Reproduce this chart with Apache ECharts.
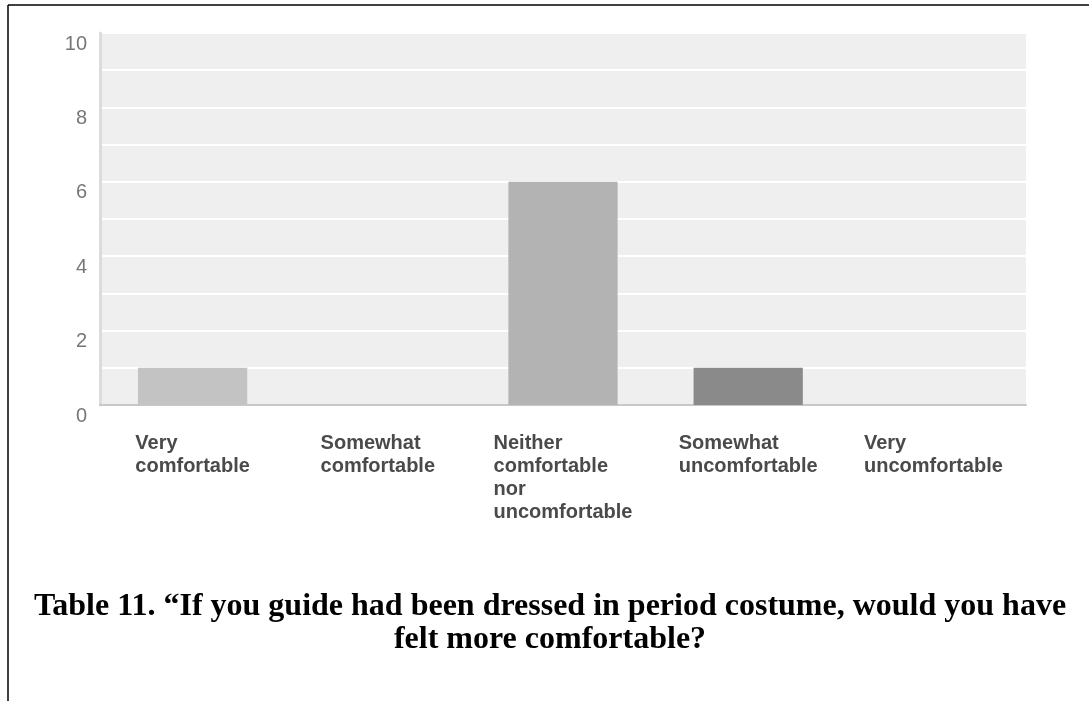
<!DOCTYPE html>
<html>
<head>
<meta charset="utf-8">
<script src="https://cdn.jsdelivr.net/npm/echarts@6/dist/echarts.min.js"></script>
<style>
  html, body { margin: 0; padding: 0; background: #ffffff; }
  #chart { width: 1089px; height: 701px; }
</style>
</head>
<body>
<div id="chart"></div>
<script>
// Survey answers and response counts
const categories = [
  'Very\ncomfortable',
  'Somewhat\ncomfortable',
  'Neither\ncomfortable\nnor\nuncomfortable',
  'Somewhat\nuncomfortable',
  'Very\nuncomfortable'
];
const responses = [1, 0, 6, 1, 0];
const barColors = ['#c3c3c3', '#bdbdbd', '#b3b3b3', '#8a8a8a', '#7a7a7a'];
const yTicks = [0, 2, 4, 6, 8, 10];
const captionLines = [
  'Table 11. \u201CIf you guide had been dressed in period costume, would you have',
  'felt more comfortable?'
];

const chart = echarts.init(document.getElementById('chart'), null, { renderer: 'canvas' });

const sansFont = 'Liberation Sans, Arial, Helvetica, sans-serif';

chart.setOption({
  animation: false,
  backgroundColor: '#ffffff',
  title: {
    text: captionLines.join('\n'),
    left: 550,
    top: 590,
    padding: 0,
    textAlign: 'center',
    textStyle: {
      fontFamily: 'Liberation Serif, Times New Roman, serif',
      fontWeight: 'bold',
      fontSize: 32,
      lineHeight: 33,
      color: '#000000'
    }
  },
  grid: {
    left: 100,
    right: 63,
    top: 33,
    bottom: 296,
    show: true,
    backgroundColor: '#efefef',
    borderWidth: 0
  },
  xAxis: {
    type: 'category',
    data: categories,
    axisTick: { show: false },
    axisLine: { lineStyle: { color: '#c8c8c8', width: 2 } },
    axisLabel: {
      interval: 0,
      margin: 27,
      formatter: function (v) {
        return v.split('\n').map(function (s) { return '{l|' + s + '}'; }).join('\n');
      },
      rich: {
        l: {
          align: 'left',
          fontFamily: sansFont,
          fontSize: 20,
          fontWeight: 'bold',
          color: '#4a4a4a',
          lineHeight: 23
        }
      }
    }
  },
  yAxis: {
    type: 'value',
    min: yTicks[0],
    max: yTicks[yTicks.length - 1],
    interval: yTicks[1] - yTicks[0],
    axisLine: { show: true, lineStyle: { color: '#dcdcdc', width: 3 } },
    axisTick: { show: false },
    axisLabel: {
      margin: 13,
      verticalAlign: 'top',
      fontFamily: sansFont,
      fontSize: 20,
      lineHeight: 22,
      color: '#777777'
    },
    splitLine: { show: true, lineStyle: { color: '#ffffff', width: 2 } },
    minorTick: { show: false, splitNumber: 2 },
    minorSplitLine: { show: true, lineStyle: { color: '#ffffff', width: 2 } }
  },
  series: [{
    type: 'bar',
    barWidth: '59%',
    data: responses.map(function (v, i) {
      return { value: v, itemStyle: { color: barColors[i] } };
    })
  }],
  graphic: [
    { type: 'line', shape: { x1: 8, y1: 5, x2: 1089, y2: 5 }, style: { stroke: '#000000', lineWidth: 1.5 } },
    { type: 'line', shape: { x1: 8, y1: 5, x2: 8, y2: 701 }, style: { stroke: '#000000', lineWidth: 1.5 } }
  ]
});
</script>
</body>
</html>
